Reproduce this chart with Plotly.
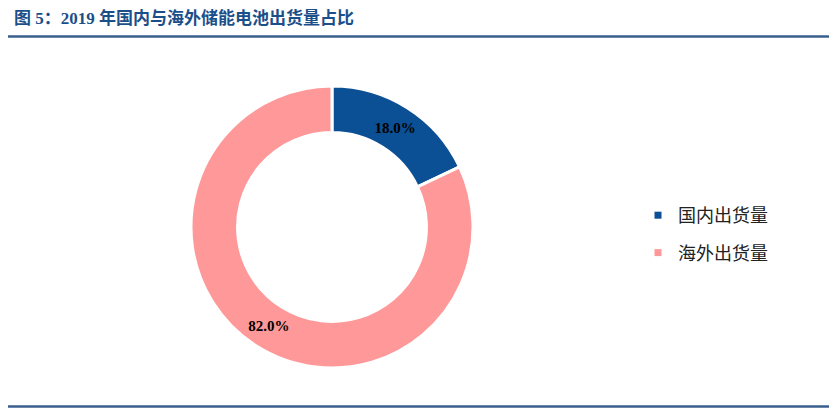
import plotly.graph_objects as go

# 2019 storage battery shipments, domestic vs overseas share (%)
labels = ["国内出货量", "海外出货量"]
shares = [18.0, 82.0]
colors = ["#0B4F94", "#FF9999"]

W, H = 837, 408
OFF = 8  # page body margin pushes the plot 8px right/down
cx, cy, r = 332 - OFF, 227 - OFF, 141  # donut centre and outer radius, px

fig = go.Figure()
fig.add_trace(go.Pie(
    labels=labels, values=shares, sort=False, direction="clockwise",
    rotation=0, hole=0.67,
    marker={"colors": colors, "line": {"color": "white", "width": 3}},
    texttemplate="%{value:.1f}%", textposition="inside",
    insidetextorientation="horizontal",
    textfont={"family": "Liberation Serif", "size": 15, "color": "black",
              "weight": "bold"},
    domain={"x": [(cx - r) / W, (cx + r) / W],
            "y": [(H - cy - r) / H, (H - cy + r) / H]},
    showlegend=False, hoverinfo="label+percent",
))

# legend entries with small square swatches
for name, c in zip(labels, colors):
    fig.add_trace(go.Scatter(
        x=[None], y=[None], mode="markers", name=name, legendgroup=name,
        marker={"symbol": "square", "size": 7, "color": c},
    ))

fig.update_layout(
    width=W, height=H,
    margin={"t": 0, "b": 0, "l": 0, "r": 0},
    paper_bgcolor="white", plot_bgcolor="white",
    xaxis={"visible": False}, yaxis={"visible": False},
    title={"text": "图 5：2019 年国内与海外储能电池出货量占比",
           "x": (14 - OFF) / W, "xanchor": "left", "y": 1 - (18 - OFF) / H,
           "yanchor": "middle", "yref": "container",
           "font": {"family": "Liberation Serif, Noto Sans CJK SC",
                    "size": 17, "color": "#1B4F8A", "weight": "bold"}},
    legend={"x": 630 / W, "y": 1 - 189 / H, "xanchor": "left",
            "yanchor": "top", "traceorder": "grouped", "tracegroupgap": 11,
            "font": {"family": "Noto Sans CJK SC", "size": 18,
                     "color": "#222222"}},
    shapes=[
        {"type": "line", "xref": "paper", "yref": "paper",
         "x0": 0, "x1": (831 - OFF) / W,
         "y0": 1 - (36.5 - OFF) / H, "y1": 1 - (36.5 - OFF) / H,
         "line": {"color": "#3A5F8F", "width": 2.5}},
        {"type": "line", "xref": "paper", "yref": "paper",
         "x0": 0, "x1": 1,
         "y0": 1 - (406.5 - OFF) / H, "y1": 1 - (406.5 - OFF) / H,
         "line": {"color": "#3A5F8F", "width": 2.5}},
    ],
)

fig.write_html("out.html")
